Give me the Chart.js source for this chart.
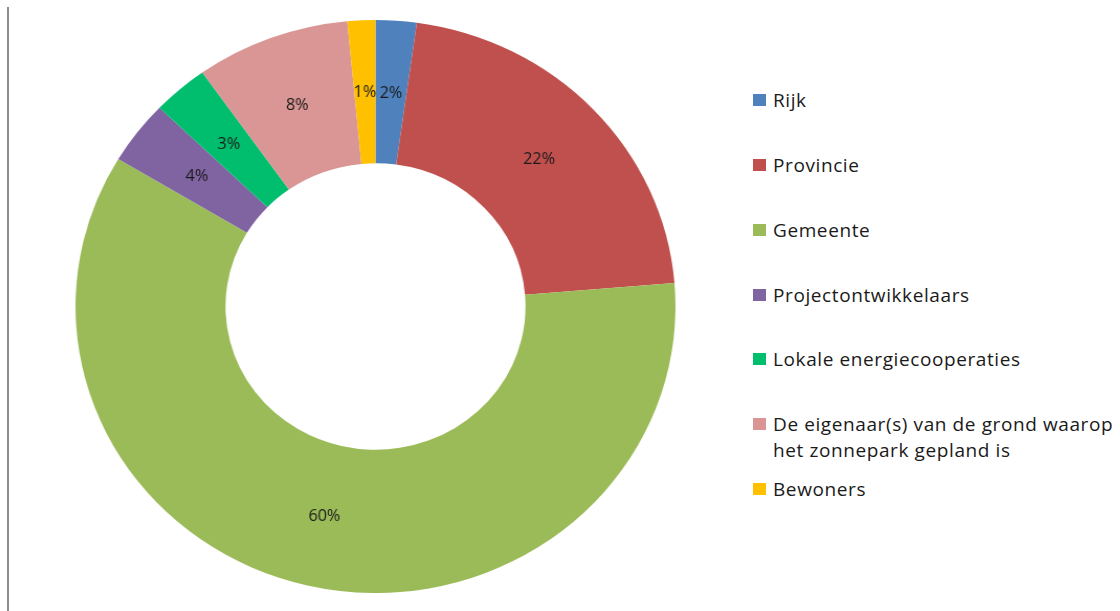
<!DOCTYPE html>
<html>
<head>
<meta charset="utf-8">
<script src="https://cdn.jsdelivr.net/npm/chart.js@4.4.1/dist/chart.umd.min.js"></script>
<style>
  html, body { margin: 0; padding: 0; background: #fff; }
  body { width: 1120px; height: 611px; position: relative; overflow: hidden; font-family: "Open Sans", sans-serif; }
  #axisLine { position: absolute; left: 7px; top: 7px; width: 2px; height: 604px; background: #8c8c8c; }
  #chartBox { position: absolute; left: 88.5px; top: 20px; width: 573px; height: 573px; transform: scaleX(1.047); transform-origin: 50% 50%; }
  #legend { position: absolute; left: 753px; top: 0; }
  .item { position: absolute; left: 0; white-space: nowrap; }
  .box { position: absolute; left: 0; width: 13px; height: 12px; }
  .txt { position: absolute; left: 20px; font-size: 19px; letter-spacing: 0.6px; line-height: 26px; color: #1a1a1a; font-variant-ligatures: none; }
</style>
</head>
<body>
<div id="axisLine"></div>
<div id="chartBox"><canvas id="donut"></canvas></div>
<div id="legend"></div>
<script>
// data
const categorieen = ['Rijk', 'Provincie', 'Gemeente', 'Projectontwikkelaars', 'Lokale energiecooperaties', 'De eigenaar(s) van de grond waarop het zonnepark gepland is', 'Bewoners'];
const legendaRegels = [['Rijk'], ['Provincie'], ['Gemeente'], ['Projectontwikkelaars'], ['Lokale energiecooperaties'], ['De eigenaar(s) van de grond waarop', 'het zonnepark gepland is'], ['Bewoners']];
const aandelen = [2.2, 21.5, 59.9, 3.6, 3.0, 8.3, 1.5];
const labelTeksten = ['2%', '22%', '60%', '4%', '3%', '8%', '1%'];
const kleuren = ['#4F81BD', '#C0504D', '#9BBB59', '#8064A2', '#00BE6E', '#D99694', '#FFC000'];

// legenda (centrum van de eerste regel per item)
const legendaY = [100, 165, 230, 295, 359, 424, 489];
const legend = document.getElementById('legend');
legendaRegels.forEach((regels, i) => {
  const item = document.createElement('div');
  item.className = 'item';
  item.style.top = (legendaY[i] - 13) + 'px';
  item.innerHTML = `<div class="box" style="top:7px;background:${kleuren[i]}"></div>
    <div class="txt">${regels.join('<br>')}</div>`;
  legend.appendChild(item);
});

const percentLabels = {
  id: 'percentLabels',
  afterDatasetsDraw(chart) {
    const ctx = chart.ctx;
    const meta = chart.getDatasetMeta(0);
    ctx.save();
    ctx.font = '15.5px "Open Sans", sans-serif';
    ctx.fillStyle = '#1a1a1a';
    ctx.textAlign = 'center';
    ctx.textBaseline = 'middle';
    meta.data.forEach((arc, i) => {
      const p = arc.tooltipPosition();
      ctx.fillText(labelTeksten[i], p.x, p.y + 1);
    });
    ctx.restore();
  }
};

new Chart(document.getElementById('donut').getContext('2d'), {
  type: 'doughnut',
  data: {
    labels: categorieen,
    datasets: [{ data: aandelen, backgroundColor: kleuren, borderWidth: 0 }]
  },
  options: {
    responsive: true,
    maintainAspectRatio: false,
    animation: false,
    cutout: '50%',
    layout: { padding: 0 },
    plugins: {
      legend: { display: false },
      tooltip: { enabled: false }
    }
  },
  plugins: [percentLabels]
});
</script>
</body>
</html>
